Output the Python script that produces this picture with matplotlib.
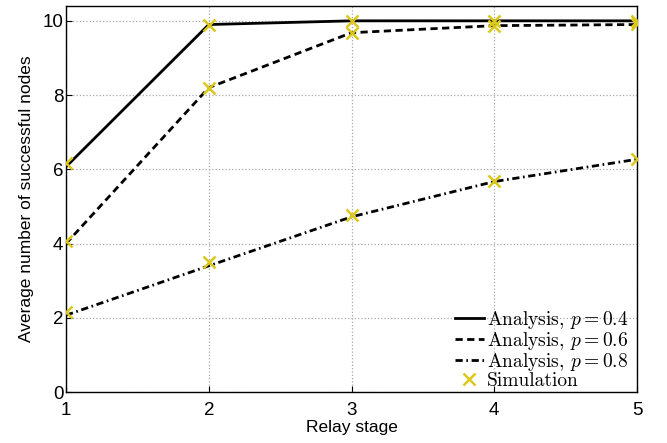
import matplotlib
matplotlib.use('Agg')
import matplotlib.pyplot as plt

plt.rcParams['font.family'] = ['Liberation Sans', 'DejaVu Sans']
plt.rcParams['mathtext.fontset'] = 'cm'

stages = [1, 2, 3, 4, 5]

# analytical curves
ana_p04 = [6.07, 9.90, 10.0, 10.0, 10.0]
ana_p06 = [4.00, 8.20, 9.68, 9.87, 9.90]
ana_p08 = [2.07, 3.40, 4.72, 5.67, 6.27]

# simulation results
sim_p04 = [6.16, 9.90, 10.0, 10.0, 10.0]
sim_p06 = [4.07, 8.20, 9.66, 9.87, 9.92]
sim_p08 = [2.16, 3.51, 4.76, 5.69, 6.27]

sim_color = '#dcc81a'

fig = plt.figure(figsize=(6.67, 4.43), dpi=100)
ax = fig.add_axes([0.099, 0.115, 0.856, 0.8715])

ax.plot(stages, ana_p04, '-', color='black', lw=2, label='Analysis, $p = 0.4$')
ax.plot(stages, ana_p06, '--', color='black', lw=2, dashes=(2.6, 1.6),
        label='Analysis, $p = 0.6$')
ax.plot(stages, ana_p08, '-.', color='black', lw=2, dashes=(2.6, 1.3, 0.6, 1.3),
        label='Analysis, $p = 0.8$')

for i, sim in enumerate([sim_p04, sim_p06, sim_p08]):
    ax.plot(stages, sim, 'x', color=sim_color, ms=9, mew=1.8,
            label='Simulation' if i == 0 else None, zorder=3)

ax.set_xlim(1, 5)
ax.set_ylim(0, 10.4)
ax.set_xticks(stages)
ax.set_yticks([0, 2, 4, 6, 8, 10])
ax.tick_params(direction='in', labelsize=13.5, length=4)
ax.tick_params(axis='x', pad=7)
ax.tick_params(axis='y', pad=2)
ax.grid(True, linestyle=':', color='#a8a8a8', lw=0.9)
for s in ax.spines.values():
    s.set_linewidth(1.0)

ax.set_xlabel('Relay stage', fontsize=12.5, labelpad=1)
ax.set_ylabel('Average number of successful nodes', fontsize=12.5, labelpad=6)

leg = ax.legend(loc='lower right', bbox_to_anchor=(1.005, -0.025), frameon=False,
                prop={'family': 'cmr10', 'size': 14}, handlelength=1.5,
                handletextpad=0.15, labelspacing=-0.05, borderaxespad=0.2)

fig.savefig('out.png', dpi=100)
